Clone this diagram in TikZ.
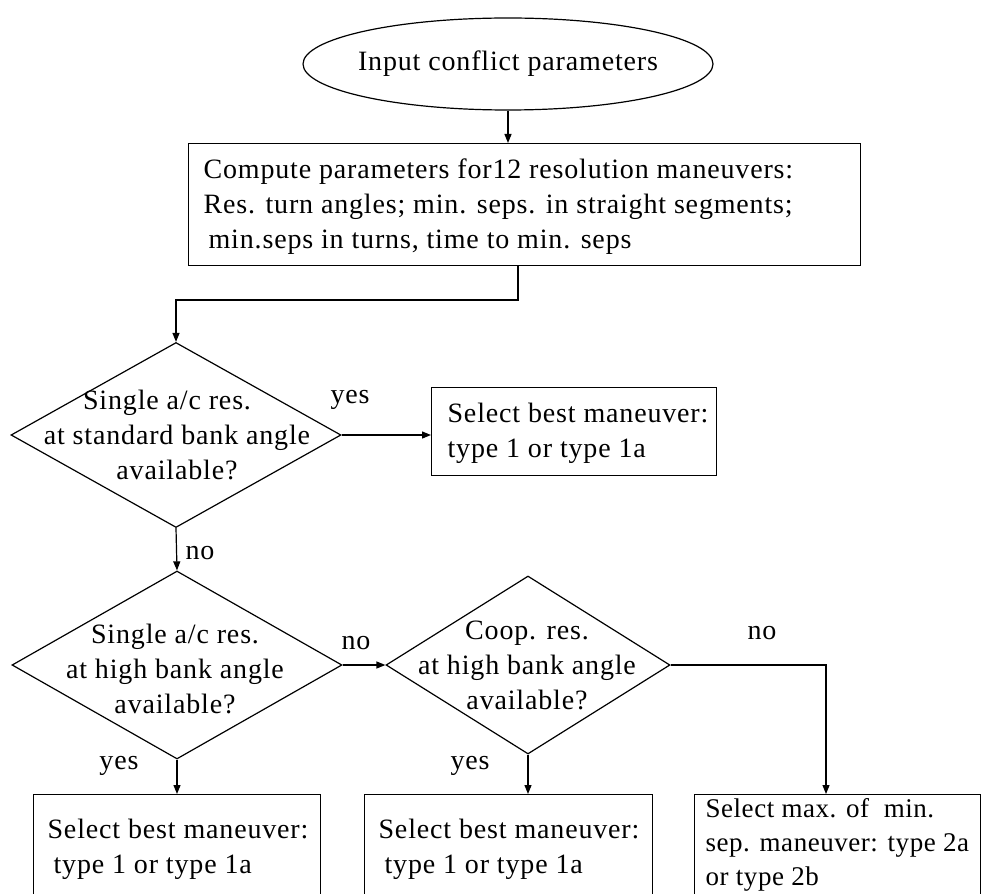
\documentclass[tikz,border=0pt]{standalone}
\usepackage{fontspec}
\setmainfont{Liberation Serif}[LetterSpace=3]
\usetikzlibrary{shapes.geometric,arrows.meta}
\begin{document}
\begin{tikzpicture}[x=1pt,y=-1pt,line width=1.2pt,
  txt/.style={font=\fontsize{28}{35}\selectfont,inner sep=0pt},
  box/.style={draw,rectangle,inner sep=0pt,anchor=north west},
  dia/.style={draw,diamond,inner sep=0pt},
  arr/.style={-{Triangle[length=9pt,width=7pt]}}]
\useasboundingbox (0,0) rectangle (981,893);
\clip (0,0) rectangle (981,893);
% start
\node[draw,ellipse,minimum width=410pt,minimum height=92pt] (start) at (508,64) {};
\node[txt] (starttxt) at (508,64) {Input conflict parameters};
% box 1
\node[box,minimum width=672pt,minimum height=122pt] (b1) at (188,143) {};
\node[txt,anchor=west,align=left] (b1txt) at (203,207) {Compute parameters for12 resolution maneuvers:\\Res. turn angles; min. seps. in straight segments;\\ \hspace*{5pt}min.seps in turns, time to min. seps};
% diamond 1
\node[dia,minimum width=330pt,minimum height=185pt] (d1) at (176,435) {};
\node[txt,align=center] (d1txt) at (177,435) {Single a/c res.\hspace*{20pt}\\at standard bank angle\\available?};
% box 2
\node[box,minimum width=285pt,minimum height=88pt] (b2) at (431,387) {};
\node[txt,anchor=west,align=left] (b2txt) at (447,433) {Select best maneuver:\\type 1 or type 1a};
% diamond 2
\node[dia,minimum width=330pt,minimum height=188pt] (d2) at (177,665) {};
\node[txt,align=center] (d2txt) at (175,669) {Single a/c res.\\at high bank angle\\available?};
% diamond 3
\node[dia,minimum width=284pt,minimum height=178pt] (d3) at (528,665) {};
\node[txt,align=center] (d3txt) at (527,665) {Coop. res.\\at high bank angle\\available?};
% bottom boxes
\node[box,minimum width=287pt,minimum height=140pt] (bA) at (33,794) {};
\node[txt,anchor=west,align=left] (bAtxt) at (47,849) {Select best maneuver:\\\hspace*{6pt}type 1 or type 1a};
\node[box,minimum width=288pt,minimum height=140pt] (bB) at (364,794) {};
\node[txt,anchor=west,align=left] (bBtxt) at (378,849) {Select best maneuver:\\\hspace*{6pt}type 1 or type 1a};
\node[box,minimum width=286pt,minimum height=140pt] (bC) at (694,794) {};
\node[txt,anchor=west,align=left,font=\fontsize{27}{34}\selectfont\addfontfeature{LetterSpace=2}] (bCtxt) at (705,845) {Select max. of\ \ min.\\sep. maneuver: type 2a\\or type 2b};
% labels
\node[txt] (l1) at (350,400) {yes};
\node[txt] (l2) at (200,553) {no};
\node[txt] (l3) at (356,643) {no};
\node[txt] (l4) at (762,633) {no};
\node[txt] (l5) at (119,766) {yes};
\node[txt] (l6) at (470,766) {yes};
% connectors
\coordinate (j1) at (518,300);
\coordinate (c2) at (826,794);
\draw[arr] (start.south) -- (start.south |- b1.north);
\draw[arr] (b1.south -| j1) -- (j1) -| (d1.north);
\draw[arr] (d1.east) -- (d1.east -| b2.west);
\draw[arr] (d1.south) -- (d2.north);
\draw[arr] (d2.east) -- (d3.west);
\draw[arr] (d2.south) -- (d2.south |- bA.north);
\draw[arr] (d3.south) -- (d3.south |- bB.north);
\draw[arr] (d3.east) -| (c2);
\end{tikzpicture}
\end{document}
